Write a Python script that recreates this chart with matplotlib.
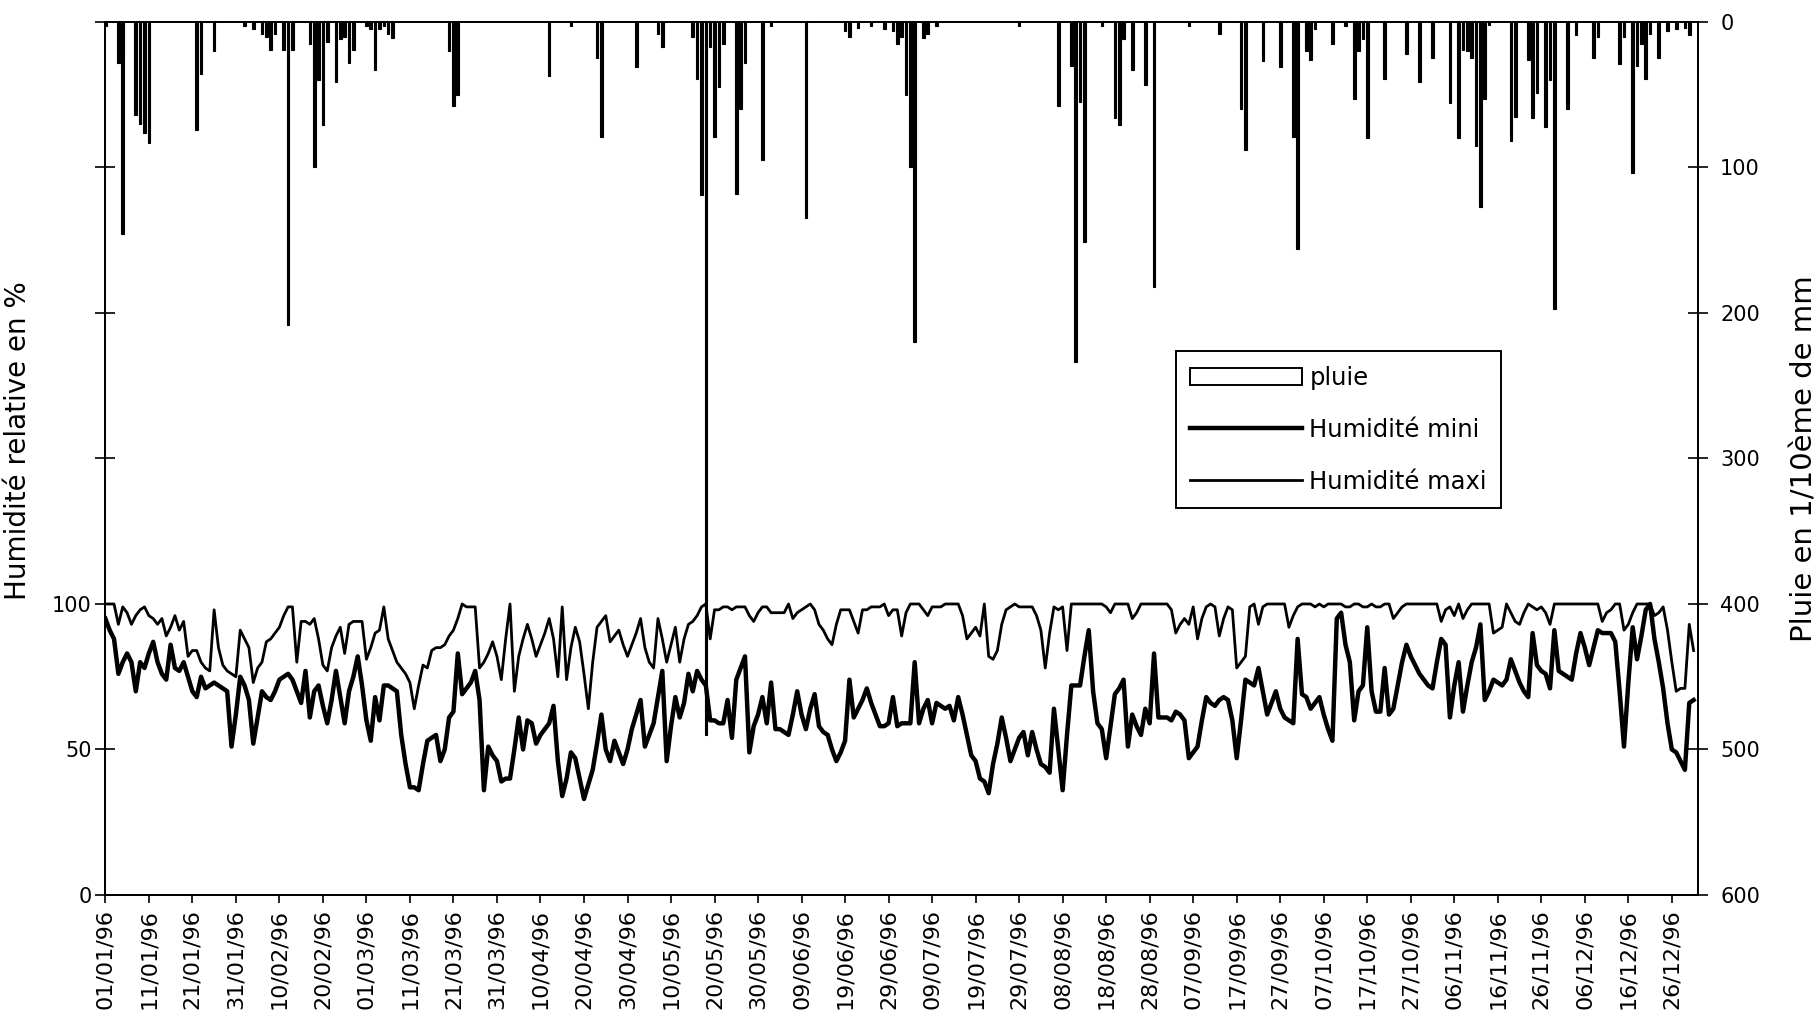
import numpy as np
import matplotlib
matplotlib.use('Agg')
from matplotlib import pyplot as plt, dates as mdates
from matplotlib.patches import Patch
from matplotlib.lines import Line2D

start = np.datetime64('1996-01-01')

# daily relative humidity (%), 01/01/96 -> 31/12/96
hum_max = [
    100, 100, 100, 93, 99, 97, 93, 96, 98, 99,
    96, 95, 93, 95, 89, 92, 96, 91, 94, 82,
    84, 84, 80, 78, 77, 98, 85, 79, 77, 76,
    75, 91, 88, 85, 73, 78, 80, 87, 88, 90,
    92, 96, 99, 99, 80, 94, 94, 93, 95, 88,
    79, 77, 85, 89, 92, 83, 93, 94, 94, 94,
    81, 85, 90, 91, 99, 88, 84, 80, 78, 76,
    73, 64, 72, 79, 78, 84, 85, 85, 86, 89,
    91, 95, 100, 99, 99, 99, 78, 80, 83, 87,
    82, 74, 88, 100, 70, 82, 88, 93, 88, 82,
    86, 90, 95, 88, 75, 99, 74, 85, 92, 87,
    76, 64, 80, 92, 94, 96, 87, 89, 91, 86,
    82, 86, 90, 95, 85, 80, 78, 95, 88, 80,
    86, 92, 80, 88, 93, 94, 96, 99, 100, 88,
    98, 98, 99, 99, 98, 99, 99, 99, 96, 94,
    97, 99, 99, 97, 97, 97, 97, 100, 95, 97,
    98, 99, 100, 98, 93, 91, 88, 86, 93, 98,
    98, 98, 94, 90, 98, 98, 99, 99, 99, 100,
    96, 98, 98, 89, 97, 100, 100, 100, 98, 96,
    99, 99, 99, 100, 100, 100, 100, 96, 88, 90,
    92, 89, 100, 82, 81, 84, 93, 98, 99, 100,
    99, 99, 99, 99, 96, 91, 78, 90, 99, 98,
    99, 84, 100, 100, 100, 100, 100, 100, 100, 100,
    99, 97, 100, 100, 100, 100, 95, 97, 100, 100,
    100, 100, 100, 100, 100, 98, 90, 93, 95, 93,
    99, 88, 95, 99, 100, 99, 89, 95, 99, 98,
    78, 80, 82, 99, 100, 93, 99, 100, 100, 100,
    100, 100, 92, 96, 99, 100, 100, 100, 99, 100,
    99, 100, 100, 100, 100, 99, 99, 100, 100, 99,
    99, 100, 99, 99, 100, 100, 95, 97, 99, 100,
    100, 100, 100, 100, 100, 100, 100, 94, 98, 99,
    96, 100, 95, 98, 100, 100, 100, 100, 100, 90,
    91, 92, 100, 97, 94, 93, 97, 100, 99, 98,
    99, 97, 93, 100, 100, 100, 100, 100, 100, 100,
    100, 100, 100, 100, 94, 97, 98, 100, 100, 91,
    93, 97, 100, 100, 100, 100, 96, 97, 99, 91,
    80, 70, 71, 71, 93, 84,
]
hum_min = [
    95, 91, 88, 76, 80, 83, 80, 70, 80, 78,
    83, 87, 80, 76, 74, 86, 78, 77, 80, 75,
    70, 68, 75, 71, 72, 73, 72, 71, 70, 51,
    62, 75, 72, 67, 52, 61, 70, 68, 67, 70,
    74, 75, 76, 74, 70, 66, 77, 61, 70, 72,
    65, 59, 67, 77, 68, 59, 70, 75, 82, 72,
    60, 53, 68, 60, 72, 72, 71, 70, 55, 45,
    37, 37, 36, 45, 53, 54, 55, 46, 50, 61,
    63, 83, 69, 71, 73, 77, 67, 36, 51, 48,
    46, 39, 40, 40, 50, 61, 50, 60, 59, 52,
    55, 57, 59, 65, 46, 34, 40, 49, 47, 40,
    33, 38, 43, 52, 62, 50, 46, 53, 49, 45,
    50, 57, 62, 67, 51, 55, 59, 68, 77, 46,
    58, 68, 61, 66, 76, 70, 77, 74, 72, 60,
    60, 59, 59, 67, 54, 74, 78, 82, 49, 58,
    62, 68, 59, 73, 57, 57, 56, 55, 62, 70,
    62, 57, 64, 69, 58, 56, 55, 50, 46, 49,
    53, 74, 61, 64, 67, 71, 66, 62, 58, 58,
    59, 68, 58, 59, 59, 59, 80, 59, 64, 67,
    59, 66, 65, 64, 65, 60, 68, 62, 55, 48,
    46, 40, 39, 35, 45, 52, 61, 54, 46, 50,
    54, 56, 48, 56, 50, 45, 44, 42, 64, 50,
    36, 55, 72, 72, 72, 82, 91, 70, 59, 57,
    47, 58, 69, 71, 74, 51, 62, 58, 55, 64,
    59, 83, 61, 61, 61, 60, 63, 62, 60, 47,
    49, 51, 60, 68, 66, 65, 67, 68, 67, 60,
    47, 60, 74, 73, 72, 78, 70, 62, 66, 70,
    64, 61, 60, 59, 88, 69, 68, 64, 66, 68,
    62, 57, 53, 95, 97, 86, 80, 60, 70, 72,
    92, 70, 63, 63, 78, 62, 64, 72, 80, 86,
    82, 79, 76, 74, 72, 71, 80, 88, 86, 61,
    72, 80, 63, 72, 80, 85, 93, 67, 70, 74,
    73, 72, 74, 81, 77, 73, 70, 68, 90, 79,
    77, 76, 71, 91, 77, 76, 75, 74, 83, 90,
    85, 79, 85, 91, 90, 90, 90, 87, 70, 51,
    73, 92, 81, 89, 98, 100, 88, 80, 71, 59,
    50, 49, 46, 43, 66, 67,
]

# rainy days (day of year, 0 = 01/01/96) and rain in 1/10 mm
rain_day = [
    0, 3, 4, 7, 8, 9, 10, 21, 22, 25, 32, 34, 36, 37, 38, 39, 41, 42, 43,
    47, 48, 49, 50, 51, 53, 54, 55, 56, 57, 60, 61, 62, 63, 64, 65, 66,
    79, 80, 81, 102, 107, 113, 114, 122, 127, 128, 135, 136, 137, 138,
    139, 140, 141, 142, 145, 146, 147, 151, 153, 161, 170, 171, 173, 176,
    179, 181, 182, 183, 184, 185, 186, 188, 189, 191, 210, 219, 222, 223,
    224, 225, 229, 232, 233, 234, 236, 239, 241, 249, 256, 261, 262, 266,
    270, 273, 274, 276, 277, 278, 282, 285, 287, 288, 289, 290, 294, 299,
    302, 305, 309, 311, 312, 313, 314, 315, 316, 317, 318, 323, 324, 327,
    328, 329, 331, 332, 333, 336, 338, 342, 343, 348, 349, 351, 352, 353,
    354, 355, 357, 359, 361, 363, 364,
]
rain_mm = [
    3, 28, 146, 64, 70, 76, 83, 74, 36, 20, 3, 5, 8, 10, 19, 8, 19, 208, 19,
    15, 100, 40, 71, 14, 41, 12, 10, 28, 19, 3, 5, 33, 5, 3, 8, 11,
    20, 58, 50, 37, 3, 25, 79, 31, 8, 17, 10, 39, 119, 490,
    17, 79, 45, 15, 118, 60, 28, 95, 3, 135, 6, 10, 4, 3,
    5, 6, 15, 10, 50, 100, 220, 11, 8, 3, 3, 58, 30, 234,
    55, 151, 3, 66, 71, 12, 33, 43, 182, 3, 8, 60, 88, 27,
    31, 79, 156, 20, 26, 5, 15, 3, 53, 20, 12, 80, 39, 22,
    41, 25, 56, 80, 19, 20, 25, 85, 127, 53, 2, 82, 65, 26,
    66, 49, 72, 40, 197, 60, 9, 25, 10, 29, 10, 104, 30, 15,
    39, 8, 25, 6, 5, 4, 9,
]

days = start + np.arange(len(hum_max))
rain_dates = start + np.array(rain_day)

fig = plt.figure(figsize=(18.16, 10.28), dpi=100)
ax = fig.add_axes([0.058, 0.1294, 0.877, 0.8492])

ax.plot(days, hum_max, color='black', lw=2.0)
ax.plot(days, hum_min, color='black', lw=3.2)
ax.set_ylim(0, 300)
ax.set_yticks(range(0, 301, 50))
ax.set_yticklabels(['0', '50', '100', '', '', '', ''])
ax.set_xlim(start, start + 366)
ax.set_xticks(start + np.arange(0, 366, 10))
ax.xaxis.set_major_formatter(mdates.DateFormatter('%d/%m/%y'))
ax.tick_params(axis='x', direction='out', length=6, width=1.2, labelsize=16,
               labelrotation=90, pad=4)
ax.tick_params(axis='y', direction='inout', length=14, width=1.2, labelsize=15, pad=3)
ax.set_ylabel('Humidité relative en %', fontsize=20)
ax.yaxis.set_label_coords(-0.046, 0.52)

ax2 = ax.twinx()
ax2.bar(rain_dates, rain_mm, width=0.6, color='black', edgecolor='black', lw=0.8)
ax2.set_ylim(600, 0)
ax2.set_yticks(range(0, 601, 100))
ax2.tick_params(axis='y', direction='inout', length=14, width=1.2, labelsize=15, pad=9)
ax2.set_ylabel('Pluie en 1/10ème de mm', fontsize=21)
ax2.yaxis.set_label_coords(1.058, 0.5)
ax2.set_xlim(start, start + 366)

for a in (ax, ax2):
    for s in a.spines.values():
        s.set_linewidth(1.4)

handles = [
    Patch(facecolor='white', edgecolor='black', lw=1.4, label='pluie'),
    Line2D([], [], color='black', lw=3.2, label='Humidité mini'),
    Line2D([], [], color='black', lw=2.0, label='Humidité maxi'),
]
leg = ax2.legend(handles=handles, loc='upper left', bbox_to_anchor=(0.672, 0.623),
                 fontsize=17.5, handlelength=4.6, labelspacing=1.15, borderaxespad=0,
                 fancybox=False, framealpha=1, edgecolor='black', borderpad=0.6,
                 handletextpad=0.3)
leg.get_frame().set_linewidth(1.4)

fig.savefig('out.png', dpi=100)
